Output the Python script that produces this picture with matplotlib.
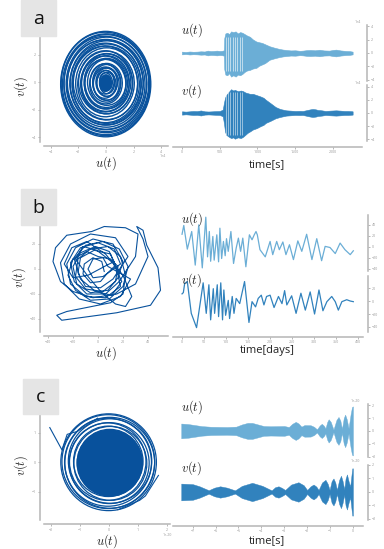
import numpy as np
import matplotlib.pyplot as plt
from matplotlib.patches import Ellipse, Circle, Rectangle

plt.rcParams['mathtext.fontset'] = 'cm'
plt.rcParams['font.family'] = ['Open Sans', 'DejaVu Sans']

W, H = 384, 549
PHASE = '#08519c'
UC = '#6baed6'
VC = '#3182bd'
SPINE = '#b5b5b5'
TICK = '#9a9a9a'
BOXC = '#e5e5e5'

# ---- a : seismic record (units of 1e4) ----
a_ring_rx = [0.22, 0.3, 0.38, 0.46, 0.55, 0.62, 0.7, 0.78, 0.86, 0.95, 1.02, 1.1, 1.18, 1.4, 1.48,
             1.56, 1.64, 1.72, 1.8, 1.88, 1.96, 2.05, 2.25, 2.33, 2.42, 2.5, 2.58, 2.66, 2.75,
             2.83, 2.92, 3.0, 3.08, 3.16, 3.22, 3.27]
a_ring_ry = [0.35, 0.45, 0.55, 0.65, 0.78, 0.86, 0.95, 1.03, 1.12, 1.22, 1.3, 1.4, 1.48, 1.68,
             1.76, 1.85, 1.94, 2.02, 2.12, 2.2, 2.3, 2.4, 2.62, 2.7, 2.8, 2.9, 2.98, 3.08, 3.18,
             3.28, 3.38, 3.48, 3.58, 3.68, 3.78, 3.85]
a_ring_cx = [0.0, 0.05, -0.05, 0.0, 0.08, -0.04, 0.02, 0.05, -0.05, 0.0, 0.05, -0.05, 0.0, 0.06,
             -0.04, 0.0, 0.05, -0.05, 0.0, 0.04, -0.03, 0.0, 0.05, -0.04, 0.0, 0.03, -0.02, 0.04,
             -0.05, 0.0, 0.03, -0.04, 0.02, 0.0, -0.03, -0.02]
a_ring_cy = [-0.05, 0.0, -0.1, 0.05, -0.05, 0.0, -0.08, 0.0, -0.05, -0.1, 0.0, -0.05, -0.1, 0.0,
             -0.08, -0.1, 0.0, -0.1, -0.05, -0.1, 0.0, -0.12, -0.1, -0.05, -0.15, -0.1, -0.12,
             -0.05, -0.1, -0.15, -0.08, -0.12, -0.1, -0.14, -0.12, -0.13]
a_ring_ang = [0, 10, -5, 8, 0, -6, 5, 0, -8, 4, 0, 6, -4, 0, 5, -3, 0, 4, -5, 0, 3, -4, 0, 5, -3,
              0, 2, -3, 4, 0, -2, 3, 0, -2, 2, 0]

a_u_t = [0, 50, 100, 150, 200, 250, 300, 340, 380, 420, 460, 500, 530, 555, 560, 575, 600, 625,
         650, 680, 710, 740, 770, 800, 830, 860, 900, 940, 985, 1020, 1060, 1100, 1160, 1220,
         1290, 1340, 1380, 1440, 1500, 1560, 1600, 1650, 1700, 1760, 1820, 1880, 1950, 2000,
         2040, 2100, 2170, 2220, 2260]
a_u_hi = [0.2, 0.15, 0.22, 0.18, 0.2, 0.25, 0.22, 0.35, 0.28, 0.3, 0.35, 0.3, 0.32, 0.4, 2.2,
          2.9, 3.0, 2.8, 3.2, 3.1, 3.2, 2.9, 3.1, 3.0, 2.8, 2.6, 2.4, 2.0, 1.7, 1.6, 1.5, 1.3,
          1.0, 0.8, 0.6, 0.5, 0.45, 0.38, 0.4, 0.32, 0.35, 0.42, 0.45, 0.4, 0.48, 0.38, 0.35,
          0.45, 0.5, 0.38, 0.3, 0.28, 0.2]
a_u_lo = [0.2, 0.15, 0.22, 0.18, 0.2, 0.25, 0.22, 0.35, 0.28, 0.3, 0.35, 0.3, 0.32, 0.4, 2.4,
          3.2, 3.3, 3.0, 3.5, 3.3, 3.5, 3.2, 3.3, 3.1, 2.8, 2.6, 2.5, 2.3, 2.2, 1.9, 1.7, 1.5,
          1.0, 0.8, 0.6, 0.5, 0.45, 0.38, 0.4, 0.32, 0.35, 0.42, 0.45, 0.4, 0.48, 0.38, 0.35,
          0.45, 0.5, 0.38, 0.3, 0.28, 0.2]

a_v_t = [0, 50, 100, 150, 200, 250, 300, 350, 400, 450, 500, 540, 555, 570, 585, 620, 650, 680,
         700, 740, 780, 810, 840, 870, 900, 940, 990, 1040, 1080, 1110, 1170, 1240, 1300, 1380,
         1440, 1500, 1560, 1600, 1660, 1700, 1730, 1770, 1800, 1850, 1900, 1960, 2040, 2100,
         2150, 2200, 2260]
a_v_hi = [0.25, 0.2, 0.25, 0.3, 0.28, 0.38, 0.25, 0.22, 0.25, 0.28, 0.3, 0.5, 1.5, 2.3, 2.7,
          3.2, 3.6, 3.4, 3.5, 3.3, 3.4, 3.3, 3.1, 3.0, 2.9, 2.9, 2.7, 2.5, 2.3, 2.0, 1.5, 0.9,
          0.6, 0.4, 0.35, 0.3, 0.32, 0.3, 0.45, 0.55, 0.6, 0.55, 0.45, 0.4, 0.3, 0.35, 0.4,
          0.35, 0.3, 0.3, 0.25]
a_v_lo = [0.25, 0.2, 0.25, 0.3, 0.28, 0.38, 0.25, 0.22, 0.25, 0.28, 0.3, 0.5, 1.5, 2.8, 3.3,
          3.6, 3.8, 3.7, 3.9, 3.7, 3.8, 3.6, 3.3, 3.0, 2.8, 2.5, 2.3, 2.0, 1.8, 1.5, 1.2, 0.8,
          0.6, 0.4, 0.35, 0.3, 0.32, 0.3, 0.45, 0.55, 0.6, 0.55, 0.45, 0.4, 0.3, 0.35, 0.4,
          0.35, 0.3, 0.3, 0.25]
a_gap_t = [580, 610, 640, 672, 702, 735, 765, 795]

# ---- b : daily record ----
b_u_t = [0, 4, 12, 22, 30, 38, 46, 54, 58, 62, 65, 70, 73, 79, 83, 86, 90, 94, 98, 101, 105, 111,
         117, 123, 128, 133, 138, 145, 153, 159, 164, 168, 171, 177, 189, 200, 206, 215, 221, 229,
         236, 244, 253, 263, 272, 283, 295, 306, 317, 325, 336, 348, 359, 370, 382, 389]
b_u = [23, 39, -4, 28, -33, 40, -38, 54, -18, 28, -26, 19, -24, 22, -27, 34, -21, 10, -16, 15, -8,
       28, -30, -2, 16, -8, 16, -36, 22, 13, 22, 28, 22, -5, -18, 10, -14, 10, -5, 9, -14, 4, -23,
       11, -8, 23, -23, 15, -25, 1, -1, -12, 7, -5, -14, -7]

b_v_t = [0, 3, 6, 12, 21, 33, 40, 48, 55, 61, 65, 71, 74, 80, 83, 88, 92, 95, 99, 105, 108, 114,
         118, 123, 131, 142, 152, 159, 167, 173, 180, 186, 192, 200, 209, 219, 227, 233, 238, 249,
         259, 270, 280, 291, 301, 311, 320, 329, 340, 348, 355, 363, 374, 382, 389]
b_v = [11, 13, 27, 30, -19, -41, -9, 28, -19, 25, -29, 19, -19, 25, -24, 28, -29, 17, -22, 1, -27,
       7, -19, 4, -4, 30, -33, -1, -9, 4, 9, -6, 7, 9, -10, 7, -4, 16, -6, 8, -19, 12, -14, 14, -20,
       17, -15, -1, 7, -1, -14, -1, 2, 0, -1]

b_ph_u = [5, 3, -4, -11, -12, -6, 2, 7, 14, 9, -2, -14, -20, -17, -6, 8, 16, 20, 12, -4, -18, -25,
          -22, -10, 6, 18, 15, 10, -3, -14, -16, -10, 2, 12, 24, 14, -6, -22, -30, -27, -15, 2, 18,
          26, 8, 4, -4, -8, -4, 4, 18, 13, 0, -14, -22, -19, -9, 6, 17, 30, 32, 22, 5, -5, -25,
          -34, -36, -30, -20, -4, 15, 30, 40, 36, 31, 36, 39, 48, 50, 42, 15, -29, -33, -25, -5, 10,
          20, 22, 18, 8, -6, -16, -18, -10, 4, 14, 16, 10, 0, -9, -20, -24, -18, -6, 9, 20, 24, 17,
          4, -10, -19, -14, -2, 11, 19, 12, -1, -12, -18, -8, 3, 14, 22, 27, 20, 6, -9, -21, -27,
          -20, -8, 7, 13]
b_ph_v = [-2, 6, 9, 4, -4, -11, -10, -4, 3, 14, 18, 13, 2, -12, -19, -17, -7, 6, 20, 24, 17, 4,
          -12, -22, -23, -14, 0, 12, 15, 9, -3, -14, -15, -8, 10, 25, 28, 20, 5, -12, -24, -28, -22,
          -8, 2, 9, 8, 0, -7, -6, 4, 16, 21, 17, 5, -10, -20, -20, -10, 10, 28, 33, 34, 30, 27, 17,
          6, -10, -18, -23, -20, -12, 10, 24, 34, 31, 19, 1, -17, -29, -35, -41, -37, -34, -30, -27,
          -20, -5, 10, 18, 16, 8, -6, -16, -18, -10, 2, 8, 10, 14, 8, -5, -17, -25, -24, -14, 2,
          16, 22, 19, 8, -8, -18, -21, -10, 5, 15, 18, 8, -6, -19, -28, -30, -22, -5, 12, 22, 17,
          4, -7, -5, 3, 6]

# ---- c : synthetic chirp (units of 1e-20) ----
c_ring_r = [1.12, 1.2, 1.26, 1.32, 1.38, 1.44, 1.5, 1.55, 1.6, 1.65]
c_ring_cx = [0.02, -0.03, 0.04, -0.05, 0.0, 0.03, -0.04, 0.02, -0.03, -0.02]
c_ring_cy = [0.0, 0.03, -0.04, 0.02, -0.03, 0.04, 0.0, -0.02, 0.02, 0.0]
c_tail_u = [-2.05, -1.63, -1.45, -1.1, -0.4]
c_tail_v = [1.18, 0.42, 0.95, 1.05, 1.5]
c_kink_u = [1.7, 1.25, 1.05, 0.3]
c_kink_v = [-0.45, -1.15, -1.3, -1.62]

c_u_t = [-7.5, -7.2, -6.9, -6.6, -6.2, -5.5, -5.1, -4.85, -4.6, -4.4, -4.15, -3.9, -3.6, -3.0,
         -2.8, -2.65, -2.5, -2.38, -2.25, -2.12, -1.85, -1.7, -1.57, -1.45, -1.36, -1.27, -1.2,
         -1.12, -1.06, -0.97, -0.85, -0.72, -0.63, -0.55, -0.48, -0.4, -0.34, -0.27, -0.19, -0.1,
         -0.04, 0.0]
c_u_amp = [0.57, 0.53, 0.45, 0.37, 0.32, 0.3, 0.33, 0.5, 0.62, 0.62, 0.5, 0.38, 0.36, 0.38, 0.3,
           0.55, 0.7, 0.58, 0.33, 0.45, 0.44, 0.32, 0.12, 0.42, 0.55, 0.4, 0.2, 0.7, 0.9, 0.7,
           0.1, 0.85, 1.08, 0.8, 0.15, 1.0, 1.26, 0.9, 0.2, 1.3, 1.85, 1.9]
c_v_t = [-7.5, -7.0, -6.7, -6.3, -6.05, -5.8, -5.5, -5.15, -4.85, -4.4, -3.95, -3.55, -3.4, -3.25,
         -3.1, -2.96, -2.7, -2.38, -2.15, -2.0, -1.85, -1.72, -1.6, -1.5, -1.35, -1.2, -1.1,
         -1.02, -0.93, -0.85, -0.77, -0.7, -0.6, -0.52, -0.45, -0.38, -0.32, -0.26, -0.19, -0.12,
         -0.06, -0.03, 0.0]
c_v_amp = [0.62, 0.58, 0.42, 0.13, 0.32, 0.42, 0.32, 0.12, 0.45, 0.68, 0.45, 0.12, 0.35, 0.42,
           0.3, 0.15, 0.55, 0.72, 0.5, 0.15, 0.42, 0.55, 0.4, 0.15, 0.7, 0.9, 0.6, 0.15, 0.8, 1.0,
           0.7, 0.15, 0.9, 1.2, 0.8, 0.2, 1.0, 1.3, 0.8, 0.4, 1.3, 1.75, 1.75]

fig = plt.figure(figsize=(W / 100, H / 100), dpi=100)


def box(x0, y0, x1, y1):
    # axes from pixel corners, y counted from the top
    return fig.add_axes([x0 / W, 1 - y1 / H, (x1 - x0) / W, (y1 - y0) / H])


def ftext(x, y, s, **kw):
    fig.text(x / W, 1 - y / H, s, **kw)


def style_phase(ax, xlim, ylim, ybounds, xt, yt):
    ax.set_xlim(*xlim)
    ax.set_ylim(*ylim)
    ax.set_xticks(xt)
    ax.set_yticks(yt)
    for s in ['top', 'right']:
        ax.spines[s].set_visible(False)
    for s in ['left', 'bottom']:
        ax.spines[s].set_position(('outward', 3.2))
        ax.spines[s].set_color(SPINE)
        ax.spines[s].set_linewidth(1.1)
    ax.spines['left'].set_bounds(*ybounds)
    ax.tick_params(colors=TICK, labelsize=2.6, length=1.5, width=0.5, pad=1)
    ax.patch.set_alpha(0)
    ax.set_xlabel(r'$u(t)$', fontsize=9, labelpad=0, color='#222222')
    ax.set_ylabel(r'$v(t)$', fontsize=9, labelpad=1, color='#222222')


def style_series(ax, xlim, ylim, ybounds, xt, yt, bottom, label):
    ax.set_xlim(*xlim)
    ax.set_ylim(*ylim)
    ax.set_yticks(yt)
    ax.yaxis.tick_right()
    for s in ['top', 'left']:
        ax.spines[s].set_visible(False)
    ax.spines['right'].set_position(('outward', 3.6))
    ax.spines['right'].set_bounds(*ybounds)
    ax.spines['right'].set_color(SPINE)
    ax.spines['right'].set_linewidth(1.1)
    if bottom:
        ax.set_xticks(xt)
        ax.spines['bottom'].set_position(('outward', 3.4))
        ax.spines['bottom'].set_color(SPINE)
        ax.spines['bottom'].set_linewidth(1.1)
    else:
        ax.spines['bottom'].set_visible(False)
        ax.set_xticks([])
    ax.tick_params(colors=TICK, labelsize=2.6, length=1.5, width=0.5, pad=1)
    ax.patch.set_alpha(0)
    ax.text(0.04, 0.9, label, transform=ax.transAxes, fontsize=9, color='#222222',
            va='center', ha='left')


def panel_tag(x0, y0, x1, y1, s):
    fig.patches.append(Rectangle((x0 / W, 1 - y1 / H), (x1 - x0) / W, (y1 - y0) / H,
                                 transform=fig.transFigure, color=BOXC, zorder=0))
    ftext((x0 + x1) / 2, (y0 + y1) / 2 + 1, s, fontsize=14, ha='center', va='center',
          color='#111111')


# ================= a =================
panel_tag(21, 0, 56, 36, 'a')
ax = box(44, 30, 168, 142)
for rx, ry, cx, cy, ang in zip(a_ring_rx, a_ring_ry, a_ring_cx, a_ring_cy, a_ring_ang):
    ax.add_patch(Ellipse((cx, cy), 2 * rx, 2 * ry, angle=ang, fill=False, ec=PHASE, lw=1.0))
ax.add_patch(Ellipse((0.0, -0.05), 0.9, 1.3, color=PHASE, lw=0))
style_phase(ax, (-4.5, 4.5), (-4.36, 3.82), (-4.36, 3.45), [-4, -2, 0, 2, 4], [-4, -2, 0, 2])
ftext(163, 157, '1e4', fontsize=2.6, color=TICK, ha='center')

ax = box(173, 24, 362, 82)
ax.fill_between(a_u_t, [-x for x in a_u_lo], a_u_hi, color=UC, lw=0.4, ec=UC)
ax.vlines(a_gap_t, -2.6, 2.4, color='white', lw=0.5, alpha=0.8)
style_series(ax, (-119, 2384), (-4.3, 4.3), (-4.2, 4.2), None, [-4, -2, 0, 2, 4], False,
             r'$u(t)$')
ftext(358, 23, '1e4', fontsize=2.6, color=TICK, ha='center')

ax = box(173, 85, 362, 142)
ax.fill_between(a_v_t, [-x for x in a_v_lo], a_v_hi, color=VC, lw=0.4, ec=VC)
ax.vlines(a_gap_t, -3.4, 3.2, color='white', lw=0.5, alpha=0.7)
style_series(ax, (-119, 2384), (-4.4, 4.24), (-4.3, 4.2), [0, 500, 1000, 1500, 2000],
             [-4, -2, 0, 2, 4], True, r'$v(t)$')
ftext(358, 84, '1e4', fontsize=2.6, color=TICK, ha='center')
ftext(267, 165, 'time[s]', fontsize=8, ha='center', va='center', color='#222222')

# ================= b =================
panel_tag(21, 189, 56, 225, 'b')
ax = box(44, 223, 168, 332)
ax.plot(b_ph_u, b_ph_v, color=PHASE, lw=0.8)
style_phase(ax, (-43.2, 56), (-50.4, 36.8), (-50.4, 35.2), [-40, -20, 0, 20, 40],
            [-40, -20, 0, 20])

ax = box(173, 213, 363, 272)
ax.plot(b_u_t, b_u, color=UC, lw=0.9)
style_series(ax, (-20.5, 411), (-45.5, 61.6), (-43.7, 58), None, [-40, -20, 0, 20, 40], False,
             r'$u(t)$')

ax = box(173, 274, 363, 332)
ax.plot(b_v_t, b_v, color=VC, lw=0.9)
style_series(ax, (-20.5, 411), (-47.7, 41.6), (-47.7, 38.5), list(range(0, 401, 50)),
             [-40, -20, 0, 20], True, r'$v(t)$')
ftext(267, 351, 'time[days]', fontsize=8, ha='center', va='center', color='#222222')

# ================= c =================
panel_tag(23, 379, 58, 414, 'c')
ax = box(44, 410, 170, 520)
ax.add_patch(Circle((0.02, -0.03), 1.15, color=PHASE, lw=0))
for r, cx, cy in zip(c_ring_r, c_ring_cx, c_ring_cy):
    ax.add_patch(Circle((cx, cy), r, fill=False, ec=PHASE, lw=0.9))
ax.plot(c_tail_u, c_tail_v, color=PHASE, lw=0.8)
ax.plot(c_kink_u, c_kink_v, color=PHASE, lw=0.8)
style_phase(ax, (-2.25, 2.1), (-1.97, 1.78), (-1.97, 1.64), [-2, -1, 0, 1, 2], [-1, 0, 1])
ftext(167, 536, '1e-20', fontsize=2.6, color=TICK, ha='center')

ax = box(173, 402, 363, 458)
ax.fill_between(c_u_t, [-x for x in c_u_amp], c_u_amp, color=UC, lw=0.3, ec=UC)
style_series(ax, (-7.86, 0.44), (-2.1, 2.24), (-2.0, 2.07), None, [-2, -1, 0, 1, 2], False,
             r'$u(t)$')
ftext(355, 402, '1e-20', fontsize=2.6, color=TICK, ha='center')

ax = box(173, 462, 363, 521)
ax.fill_between(c_v_t, [-x for x in c_v_amp], c_v_amp, color=VC, lw=0.3, ec=VC)
style_series(ax, (-7.86, 0.44), (-2.15, 2.22), (-2.1, 2.03), list(range(-7, 1)),
             [-2, -1, 0, 1, 2], True, r'$v(t)$')
ftext(355, 462, '1e-20', fontsize=2.6, color=TICK, ha='center')
ftext(267, 541, 'time[s]', fontsize=8, ha='center', va='center', color='#222222')

fig.savefig('out.png', dpi=100)
